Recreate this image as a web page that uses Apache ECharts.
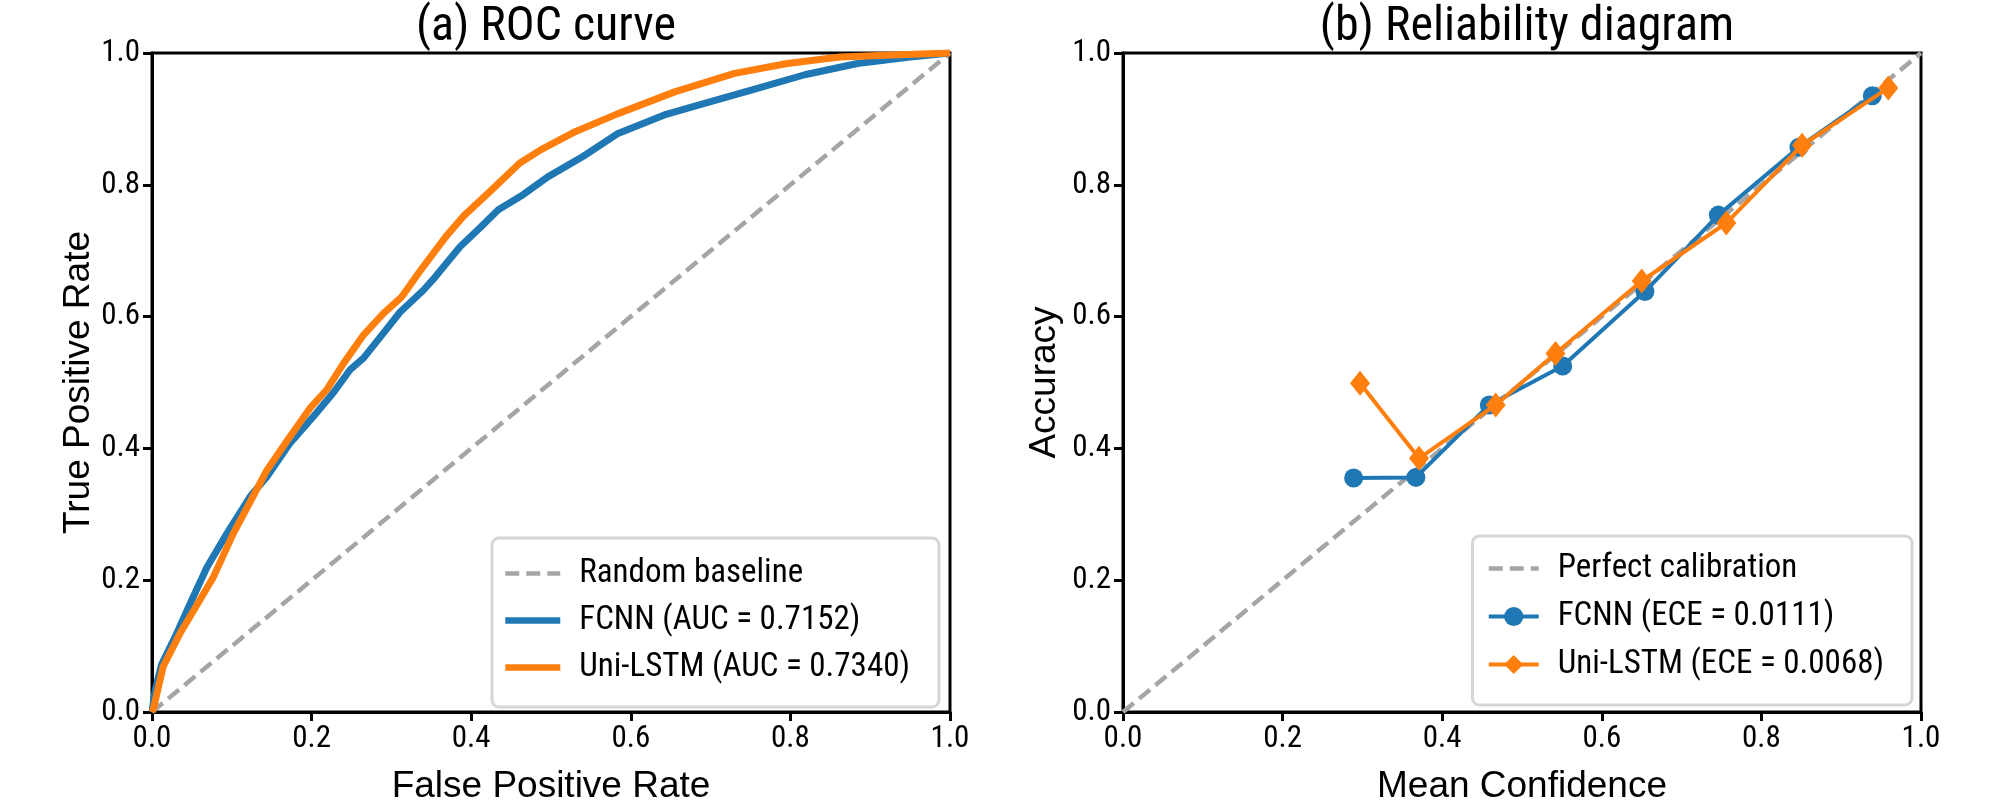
<!DOCTYPE html>
<html>
<head>
<meta charset="utf-8">
<title>ROC curve / Reliability diagram</title>
<script src="https://cdn.jsdelivr.net/npm/echarts@6.0.0/dist/echarts.min.js"></script>
<style>
  html, body { margin: 0; padding: 0; background: #fff; }
  #main { width: 2008px; height: 805px; }
</style>
</head>
<body>
<div id="main"></div>
<script>
// ---- data ----
var tickValues = [0, 0.2, 0.4, 0.6, 0.8, 1.0];

// (a) ROC curve
var fcnnFpr = [0, 0.004, 0.012, 0.029, 0.048, 0.069, 0.094, 0.123, 0.144, 0.173, 0.202, 0.227, 0.248, 0.265, 0.290, 0.311, 0.340, 0.352, 0.386, 0.412, 0.434, 0.465, 0.496, 0.540, 0.584, 0.642, 0.699, 0.752, 0.818, 0.884, 0.950, 1.0];
var fcnnTpr = [0, 0.033, 0.072, 0.114, 0.165, 0.220, 0.271, 0.327, 0.357, 0.408, 0.448, 0.484, 0.519, 0.537, 0.575, 0.607, 0.640, 0.656, 0.706, 0.736, 0.762, 0.785, 0.812, 0.843, 0.878, 0.906, 0.926, 0.944, 0.967, 0.984, 0.994, 1.0];
var lstmFpr = [0, 0.002, 0.014, 0.035, 0.060, 0.077, 0.102, 0.131, 0.144, 0.173, 0.198, 0.219, 0.240, 0.265, 0.290, 0.313, 0.337, 0.368, 0.390, 0.421, 0.461, 0.487, 0.531, 0.584, 0.655, 0.730, 0.796, 0.862, 0.928, 1.0];
var lstmTpr = [0, 0.006, 0.069, 0.119, 0.170, 0.205, 0.271, 0.337, 0.367, 0.418, 0.461, 0.489, 0.529, 0.572, 0.605, 0.630, 0.671, 0.721, 0.752, 0.787, 0.833, 0.853, 0.881, 0.908, 0.941, 0.969, 0.984, 0.994, 0.997, 1.0];
var baseline = [[0, 0], [1, 1]];

// (b) Reliability diagram
var fcnnConf = [0.289, 0.367, 0.459, 0.551, 0.654, 0.746, 0.847, 0.939];
var fcnnAcc  = [0.355, 0.356, 0.466, 0.525, 0.638, 0.754, 0.857, 0.935];
var lstmConf = [0.297, 0.371, 0.467, 0.542, 0.650, 0.756, 0.851, 0.959];
var lstmAcc  = [0.499, 0.385, 0.466, 0.544, 0.654, 0.742, 0.860, 0.947];

var rocNames = ['Random baseline', 'FCNN (AUC = 0.7152)', 'Uni-LSTM (AUC = 0.7340)'];
var relNames = ['Perfect calibration', 'FCNN (ECE = 0.0111)', 'Uni-LSTM (ECE = 0.0068)'];

function pairs(xs, ys) {
    return xs.map(function (x, i) { return [x, ys[i]]; });
}

var BLUE = '#1f77b4', ORANGE = '#ff7f0e', GREY = '#a5a5a5';
var REGULAR = "'Liberation Sans', Arial, sans-serif";
var NARROW = "'Roboto Condensed', 'Liberation Sans', sans-serif";

function makeX(idx, name) {
    return {
        gridIndex: idx, type: 'value', min: 0, max: 1, interval: 0.2,
        name: name, nameLocation: 'middle', nameGap: 56,
        nameTextStyle: { fontFamily: REGULAR, fontSize: 37, color: '#000' },
        axisLine: { show: true, onZero: false, lineStyle: { color: '#000', width: 3 } },
        axisTick: { show: true, length: 9, lineStyle: { color: '#000', width: 3 } },
        axisLabel: { margin: 12, fontFamily: NARROW, fontSize: 31, color: '#000',
            formatter: function (v) { return v.toFixed(1); } },
        splitLine: { show: false }
    };
}
function makeY(idx, name, gap) {
    var ax = makeX(idx, name);
    ax.nameGap = gap;
    return ax;
}
function makeLegend(right, top, names, itemWidth, gap, padding, widths, hideSymbolAll) {
    return {
        orient: 'vertical', right: right, top: top,
        data: names.map(function (n, i) {
            var d = { name: n, lineStyle: { width: widths[i] } };
            if (hideSymbolAll || i === 0) d.itemStyle = { opacity: 0 };
            return d;
        }),
        itemWidth: itemWidth, itemHeight: 24, itemGap: gap,
        padding: padding,
        borderColor: '#d6d6d6', borderWidth: 3, borderRadius: 7,
        backgroundColor: '#fff',
        selectedMode: false,
        textStyle: { fontFamily: NARROW, fontSize: 33, lineHeight: 32, color: '#000', padding: [0, 0, 0, 14] }
    };
}

var chart = echarts.init(document.getElementById('main'));
var option = {
    animation: false,
    backgroundColor: '#fff',
    title: [
        { text: '(a) ROC curve', left: 546, top: 4, textAlign: 'center', padding: 0,
          textStyle: { fontFamily: NARROW, fontSize: 48, fontWeight: 'normal', color: '#000' } },
        { text: '(b) Reliability diagram', left: 1527, top: 4, textAlign: 'center', padding: 0,
          textStyle: { fontFamily: NARROW, fontSize: 48, fontWeight: 'normal', color: '#000' } }
    ],
    grid: [
        { left: 152, top: 53, width: 798, height: 659, show: true, borderColor: '#000', borderWidth: 3, outerBoundsMode: 'none' },
        { left: 1123, top: 53, width: 798, height: 659, show: true, borderColor: '#000', borderWidth: 3, outerBoundsMode: 'none' }
    ],
    xAxis: [makeX(0, 'False Positive Rate'), makeX(1, 'Mean Confidence')],
    yAxis: [makeY(0, 'True Positive Rate', 42), makeY(1, 'Accuracy', 60)],
    legend: [
        makeLegend(2008 - 939, 538, rocNames, 55, 14, [19, 29, 23, 10], [4.5, 6.5, 6.5], true),
        makeLegend(2008 - 1912, 536, relNames, 50, 15, [16, 28, 24, 14], [4.5, 4, 4], false)
    ],
    series: [
        { name: rocNames[0], type: 'line', xAxisIndex: 0, yAxisIndex: 0, data: baseline,
          symbol: 'none', silent: true, z: 1, color: GREY,
          lineStyle: { color: GREY, width: 4.5, type: [14, 7] } },
        { name: rocNames[1], type: 'line', xAxisIndex: 0, yAxisIndex: 0, data: pairs(fcnnFpr, fcnnTpr),
          symbol: 'none', z: 2, color: BLUE, lineStyle: { color: BLUE, width: 7 } },
        { name: rocNames[2], type: 'line', xAxisIndex: 0, yAxisIndex: 0, data: pairs(lstmFpr, lstmTpr),
          symbol: 'none', z: 3, color: ORANGE, lineStyle: { color: ORANGE, width: 7 } },

        { name: relNames[0], type: 'line', xAxisIndex: 1, yAxisIndex: 1, data: baseline,
          symbol: 'none', silent: true, z: 1, color: GREY,
          lineStyle: { color: GREY, width: 4.5, type: [14, 7] } },
        { name: relNames[1], type: 'line', xAxisIndex: 1, yAxisIndex: 1, data: pairs(fcnnConf, fcnnAcc),
          symbol: 'circle', symbolSize: 19, z: 2, color: BLUE,
          itemStyle: { color: BLUE }, lineStyle: { color: BLUE, width: 4 } },
        { name: relNames[2], type: 'line', xAxisIndex: 1, yAxisIndex: 1, data: pairs(lstmConf, lstmAcc),
          symbol: 'diamond', symbolSize: [20, 25], z: 3, color: ORANGE,
          itemStyle: { color: ORANGE }, lineStyle: { color: ORANGE, width: 4 } }
    ]
};
chart.setOption(option);
</script>
</body>
</html>
